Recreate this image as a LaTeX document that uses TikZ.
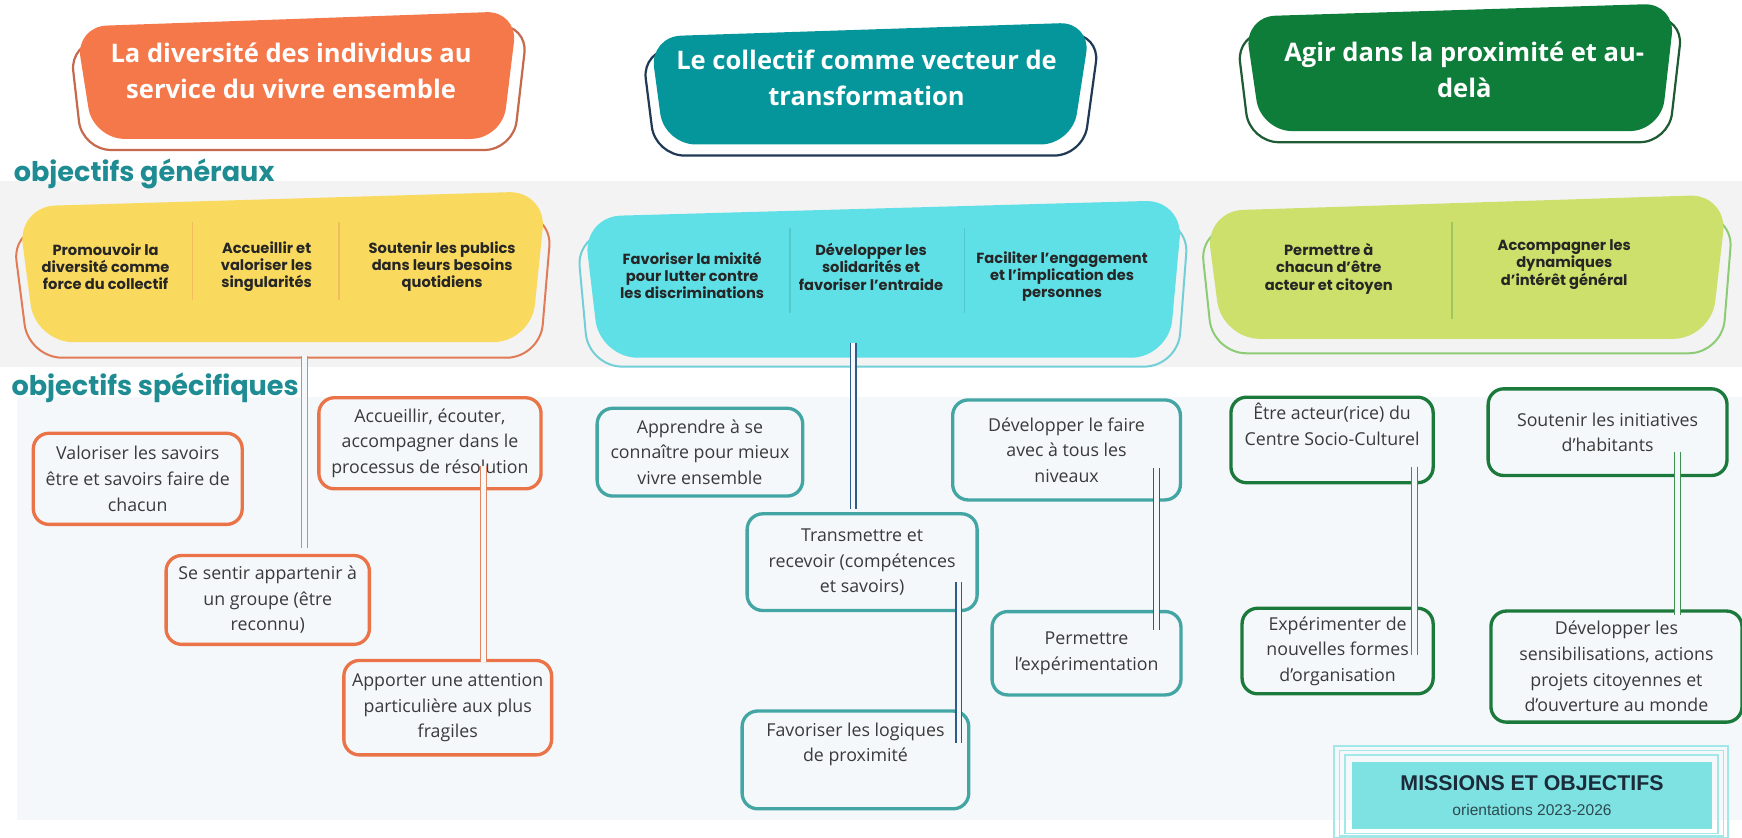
\documentclass[tikz,border=0pt]{standalone}
\usepackage{fontspec}
\setmainfont{Open Sans}
\newfontfamily\popfont{Poppins}
\newfontfamily\arialfont{Liberation Sans}
\usepackage{tikz}
\usetikzlibrary{shapes.geometric, positioning}
\definecolor{orangefill}{HTML}{F5784B}
\definecolor{orangeline}{HTML}{C66A4E}
\definecolor{tealfill}{HTML}{05969B}
\definecolor{tealline}{HTML}{203A55}
\definecolor{greenfill}{HTML}{0E7D3A}
\definecolor{greenline}{HTML}{1E5B34}
\definecolor{yellowfill}{HTML}{FADA5E}
\definecolor{yellowline}{HTML}{E07B56}
\definecolor{cyanfill}{HTML}{5FE0E6}
\definecolor{cyanline}{HTML}{72CFD7}
\definecolor{limefill}{HTML}{CDE06B}
\definecolor{limeline}{HTML}{8DCB74}
\definecolor{headteal}{HTML}{1E8C92}
\definecolor{bandgrey}{HTML}{F3F3F3}
\definecolor{areabg}{HTML}{F5F8FA}
\definecolor{txtgrey}{HTML}{3A3A3A}
\definecolor{orstroke}{HTML}{EA7347}
\definecolor{tlstroke}{HTML}{44A6A4}
\definecolor{grstroke}{HTML}{1B7A3B}
\definecolor{orlink}{HTML}{E08762}
\definecolor{bllink}{HTML}{2E5B88}
\definecolor{grlink}{HTML}{3D9050}
\definecolor{footfill}{HTML}{7EE2E2}
\definecolor{footline}{HTML}{A3E8E8}
\definecolor{foottext}{HTML}{1C2B3A}
\definecolor{footsub}{HTML}{2C4A50}

\begin{document}
\begin{tikzpicture}[
			x=0.5pt, y=-0.5pt,
			boxsize/.style n args={2}{minimum width=#1*0.5pt, minimum height=#2*0.5pt},
			title/.style={text=white, align=center, font=\fontsize{11.5}{16}\selectfont\bfseries, inner sep=0pt},
			titleout/.style={line width=1pt, rounded corners=13pt},
			titlefill/.style={rounded corners=14pt},
			genout/.style={line width=0.9pt, rounded corners=15pt},
			genfill/.style={rounded corners=17pt},
			genzone/.style={rectangle, inner sep=0pt},
			gentext/.style={align=center, font=\popfont\bfseries\fontsize{6.6}{7.8}\selectfont, text=black!85},
			divider/.style={line width=0.6pt},
			heading/.style={font=\popfont\bfseries\fontsize{12.2}{14}\selectfont, text=headteal, inner sep=0pt},
			spec/.style={rectangle, rounded corners=7pt, line width=1.5pt, fill=areabg, align=center, text=txtgrey, font=\fontsize{8}{11.5}\selectfont, inner sep=0pt},
			specor/.style={spec, draw=orstroke},
			spectl/.style={spec, draw=tlstroke},
			specgr/.style={spec, draw=grstroke},
			link/.style={line width=0.5pt, double distance=2pt, double=areabg},
			orl/.style={link, draw=orlink},
			bll/.style={link, draw=bllink},
			grl/.style={link, draw=grlink}
			]
			\useasboundingbox (0,0) rectangle (1568,754);
			% Backgrounds
			\fill[bandgrey] (0,163) rectangle (1568,330);
			\fill[areabg] (15,357) rectangle (1568,738);
			
			% Orientations
			\draw[orangeline, titleout] (63,38) -- (475,22) -- (462,135) -- (74,135) -- cycle;
			\fill[orangefill, titlefill] (68,24) -- (466,10) -- (452,125) -- (84,125) -- cycle;
			\node[title] (ttl1) at (262,64) {La diversité des individus au\\service du vivre ensemble};
			
			\draw[tealline, titleout] (578,45) -- (990,30) -- (975,140) -- (590,140) -- cycle;
			\fill[tealfill, titlefill] (585,33) -- (982,20) -- (965,130) -- (598,130) -- cycle;
			\node[title] (ttl2) at (780,70) {Le collectif comme vecteur de\\transformation};
			
			\draw[greenline, titleout] (1113,30) -- (1515,15) -- (1502,128) -- (1125,128) -- cycle;
			\fill[greenfill, titlefill] (1120,15) -- (1508,3) -- (1495,118) -- (1135,118) -- cycle;
			\node[title] (ttl3) at (1318,63) {Agir dans la proximité et au-\\delà};
			
			% Objectifs generaux
			\node[heading, anchor=base west] (hgen) at (12,163) {objectifs généraux};
			\draw[yellowline, genout] (11,205) -- (497,192) -- (486,322) -- (26,322) -- cycle;
			\fill[yellowfill, genfill] (16,186) -- (492,172) -- (478,308) -- (32,308) -- cycle;
			\draw[cyanline, genout] (519,210) -- (1070,198) -- (1060,330) -- (530,330) -- cycle;
			\fill[cyanfill, genfill] (525,195) -- (1065,180) -- (1052,322) -- (540,322) -- cycle;
			\draw[limeline, genout] (1080,205) -- (1560,193) -- (1550,318) -- (1092,318) -- cycle;
			\fill[limefill, genfill] (1085,190) -- (1555,175) -- (1540,305) -- (1100,305) -- cycle;
			\node[genzone, boxsize={476}{136}] (gy) at (254,240) {};
			\node[genzone, boxsize={540}{142}] (gc) at (795,251) {};
			\node[genzone, boxsize={470}{130}] (gg) at (1320,240) {};
			
			\node[gentext] (gy1) at (95,240) {Promouvoir la\\diversité comme\\force du collectif};
			\node[gentext] (gy2) at (240,240) {Accueillir et\\valoriser les\\singularités};
			\node[gentext] (gy3) at (398,240) {Soutenir les publics\\dans leurs besoins\\quotidiens};
			\draw[divider, draw=yellowline!30!yellowfill] (173,200) -- (173,270);
			\draw[divider, draw=yellowline!30!yellowfill] (305,200) -- (305,270);
			
			\node[gentext] (gc1) at (623,248) {Favoriser la mixité\\pour lutter contre\\les discriminations};
			\node[gentext] (gc2) at (784,240) {Développer les\\solidarités et\\favoriser l’entraide};
			\node[gentext] (gc3) at (956,249) {Faciliter l’engagement\\et l’implication des\\personnes};
			\draw[divider, draw=tlstroke!40!cyanfill] (711,205) -- (711,282);
			\draw[divider, draw=tlstroke!40!cyanfill] (868,205) -- (868,282);
			
			\node[gentext] (gg1) at (1196,242) {Permettre à\\chacun d’être\\acteur et citoyen};
			\node[gentext] (gg2) at (1408,238) {Accompagner les\\dynamiques\\d’intérêt général};
			\draw[divider, draw=grstroke!25!limefill] (1307,200) -- (1307,287);
			
			% Objectifs specifiques
			\node[heading, anchor=base west] (hspe) at (10,356) {objectifs spécifiques};
			\node[specor, boxsize={188}{82}] (valo) at (124,431) {Valoriser les savoirs\\être et savoirs faire de\\chacun};
			\node[specor, boxsize={200}{82}] (acc) at (387,399) {Accueillir, écouter,\\accompagner dans le\\processus de résolution};
			\node[specor, boxsize={183}{80}] (sent) at (241,540) {Se sentir appartenir à\\un groupe (être\\reconnu)};
			\node[specor, boxsize={187}{85}] (appo) at (403,637) {Apporter une attention\\particulière aux plus\\fragiles};
			
			\node[spectl, boxsize={185}{79}] (appr) at (630,407) {Apprendre à se\\connaître pour mieux\\vivre ensemble};
			\node[spectl, boxsize={207}{87}] (trans) at (776,506) {Transmettre et\\recevoir (compétences\\et savoirs)};
			\node[spectl, boxsize={205}{90}] (devf) at (960,405) {Développer le faire\\avec à tous les\\niveaux};
			\node[spectl, boxsize={170}{75}] (perm) at (978,588) {Permettre\\l’expérimentation};
			\node[spectl, boxsize={204}{88}] (prox) at (770,684) {Favoriser les logiques\\de proximité\\[4.5pt]};
			
			\node[specgr, boxsize={182}{77}] (etre) at (1199,396) {Être acteur(rice) du\\Centre Socio-Culturel\\[2.5pt]};
			\node[specgr, boxsize={172}{77}] (expe) at (1204,586) {Expérimenter de\\nouvelles formes\\d’organisation};
			\node[specgr, boxsize={215}{78}] (sout) at (1447,389) {Soutenir les initiatives\\d’habitants};
			\node[specgr, boxsize={226}{100}] (devs) at (1455,600) {Développer les\\sensibilisations, actions\\projets citoyennes et\\d’ouverture au monde};
			
			% Liens
			\draw[orl] ([xshift=10pt, yshift=-6pt]gy.south) -- ([xshift=16.5pt, yshift=2.5pt]sent.north);
			\draw[orl] ([xshift=24pt, yshift=11pt]acc.south) -- ([xshift=16pt, yshift=-1.5pt]appo.north);
			\draw[bll] ([xshift=-13.5pt, yshift=7pt]gc.south) -- ([xshift=-4pt, yshift=1.5pt]trans.north);
			\draw[bll] ([xshift=43.5pt, yshift=13.5pt]trans.south) -- ([xshift=46.5pt, yshift=-15pt]prox.north);
			\draw[bll] ([xshift=40.5pt, yshift=15pt]devf.south) -- ([xshift=31.5pt, yshift=-9pt]perm.north);
			\draw[grl] ([xshift=37pt, yshift=8pt]etre.south) -- ([xshift=34.5pt, yshift=-22pt]expe.north);
			\draw[grl] ([xshift=31.5pt, yshift=11.5pt]sout.south) -- ([xshift=27.5pt, yshift=-2.5pt]devs.north);
			
			% Cartouche
			\node[fill=footfill, boxsize={324}{60}, align=center, text=foottext, inner sep=0pt, font=\arialfont\bfseries\fontsize{9.6}{11}\selectfont] (miss) at (1379,716) {MISSIONS ET OBJECTIFS\\{\mdseries\color{footsub}\fontsize{7}{8}\selectfont orientations 2023-2026}};
			\draw[footline, line width=0.8pt] ([shift={(-8pt,7pt)}]miss.north west) rectangle ([shift={(7pt,-4pt)}]miss.south east);
			\draw[footline, line width=0.6pt] ([shift={(-5.5pt,5pt)}]miss.north west) rectangle ([shift={(5pt,-3pt)}]miss.south east);
			\draw[footline, line width=0.5pt] ([shift={(-3pt,3pt)}]miss.north west) rectangle ([shift={(2.5pt,-2pt)}]miss.south east);
		\end{tikzpicture}
\end{document}
